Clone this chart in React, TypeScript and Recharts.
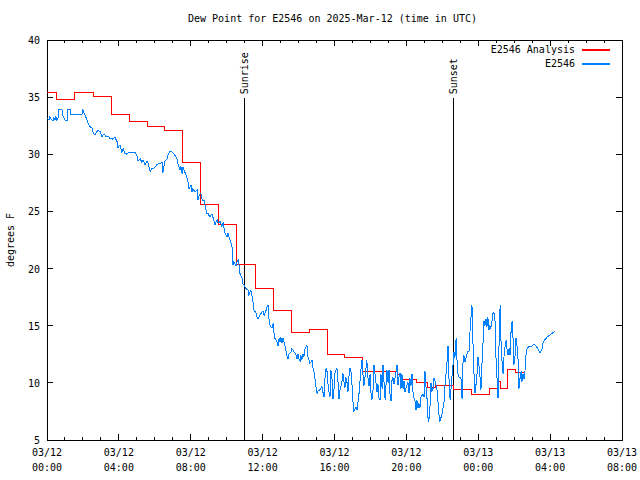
import { LineChart, Line, XAxis, YAxis, ReferenceLine, ReferenceArea } from 'recharts';

// E2546 hourly analysis (minutes after 03/12 00:00 UTC, step starts)
const analysisMinutes = [
  0, 33, 93, 154, 214, 274, 334, 394, 454, 514, 574, 634, 695, 755, 815, 875, 935, 995,
  1055, 1169, 1179, 1235, 1269, 1296, 1356, 1416, 1476, 1509, 1513, 1536, 1566, 1596,
];
const analysisValues = [
  35.4, 34.8, 35.4, 35.1, 33.5, 32.9, 32.4, 32.1, 29.3, 25.6, 23.9, 20.4, 18.3, 16.3, 14.4, 14.7, 12.5, 12.2,
  11.0, 10.7, 10.3, 10.0, 9.6, 9.8, 9.4, 9.0, 9.5, 10.1, 9.5, 11.2, 10.9, 10.9,
];

// E2546 station observations [minute, dew point F]
const observations: [number, number][] = [
  [0, 33.2], [7, 33.0], [10, 33.3], [13, 33.1], [20, 32.9], [23, 33.2], [27, 33.0], [30, 33.3], [33, 33.0],
  [37, 33.2], [40, 33.9], [50, 33.9], [53, 33.4], [60, 33.0], [67, 33.0], [70, 33.9], [77, 33.9], [80, 33.5],
  [117, 33.5], [120, 33.9], [127, 33.4], [134, 33.0], [137, 32.7], [144, 32.4], [150, 32.3], [154, 31.9],
  [160, 31.7], [167, 32.0], [170, 32.1], [177, 32.0], [184, 31.5], [187, 31.7], [194, 31.7], [197, 31.5],
  [204, 31.6], [210, 31.4], [217, 31.4], [220, 31.3], [227, 31.5], [234, 31.1], [237, 30.6], [244, 30.8],
  [250, 30.2], [254, 30.5], [260, 30.1], [267, 30.0], [270, 30.1], [277, 30.2], [294, 30.2], [301, 29.8],
  [304, 29.4], [311, 29.6], [317, 29.3], [321, 29.5], [327, 29.1], [334, 29.4], [337, 29.3], [344, 28.5],
  [351, 28.8], [354, 28.7], [361, 28.9], [367, 29.1], [377, 29.2], [384, 29.3], [387, 28.4], [391, 29.0],
  [394, 29.4], [401, 29.6], [404, 29.9], [411, 30.3], [417, 30.2], [421, 30.1], [427, 29.9], [434, 29.6],
  [437, 29.2], [444, 28.6], [447, 29.0], [451, 28.3], [454, 28.9], [461, 28.4], [467, 28.0], [471, 27.6],
  [474, 27.0], [481, 27.3], [484, 26.7], [487, 27.0], [494, 26.7], [501, 26.9], [504, 26.0], [508, 26.4],
  [514, 26.6], [518, 26.0], [521, 25.9], [524, 26.0], [528, 25.5], [534, 24.8], [538, 24.8], [544, 24.5],
  [551, 24.8], [554, 24.5], [561, 23.8], [568, 24.3], [571, 24.0], [578, 24.1], [584, 23.7], [588, 24.0],
  [594, 23.1], [601, 22.8], [604, 23.1], [611, 22.5], [618, 21.9], [621, 20.3], [624, 20.6], [631, 20.2],
  [634, 20.5], [638, 20.8], [641, 20.3], [644, 19.6], [651, 19.2], [654, 18.7], [661, 18.4], [668, 18.1],
  [671, 18.2], [674, 17.7], [681, 18.1], [685, 17.5], [688, 17.1], [691, 16.4], [698, 16.1], [701, 15.8],
  [705, 15.6], [711, 15.9], [718, 16.2], [721, 16.3], [725, 15.9], [731, 16.3], [735, 16.7], [738, 16.8],
  [741, 15.6], [745, 15.0], [751, 14.8], [755, 15.2], [758, 14.4], [761, 13.9], [768, 13.6], [771, 13.2],
  [775, 13.9], [778, 13.6], [781, 14.0], [785, 13.5], [788, 13.9], [791, 13.6], [795, 13.2], [801, 12.4],
  [805, 12.1], [808, 12.5], [815, 12.7], [818, 13.0], [825, 12.7], [831, 12.5], [835, 12.1], [838, 12.5],
  [841, 12.1], [845, 11.9], [848, 12.4], [851, 12.0], [855, 12.5], [858, 12.3], [861, 12.9], [868, 13.3],
  [871, 12.3], [875, 12.0], [878, 11.7], [885, 12.0], [888, 11.3], [891, 11.1], [895, 10.3], [898, 9.7],
  [902, 9.1], [905, 9.3], [912, 9.4], [918, 9.7], [922, 9.1], [925, 8.8], [928, 10.3], [932, 11.3],
  [935, 11.0], [938, 10.0], [942, 9.1], [945, 8.8], [948, 11.1], [952, 10.3], [955, 8.6], [958, 9.3],
  [962, 11.0], [968, 11.3], [972, 10.0], [975, 8.6], [978, 9.3], [985, 10.1], [988, 10.9], [992, 10.0],
  [995, 9.6], [998, 10.5], [1002, 10.0], [1005, 9.2], [1008, 10.5], [1012, 11.3], [1015, 11.0], [1018, 10.0],
  [1022, 8.2], [1025, 7.5], [1032, 7.9], [1035, 7.6], [1038, 8.2], [1042, 9.1], [1045, 10.1], [1048, 11.1],
  [1052, 12.0], [1055, 10.8], [1058, 9.7], [1062, 10.5], [1068, 12.0], [1072, 10.4], [1075, 9.7], [1079, 10.8],
  [1082, 9.1], [1085, 8.5], [1089, 9.5], [1092, 11.6], [1095, 10.8], [1102, 9.2], [1105, 9.9], [1109, 8.6],
  [1112, 8.5], [1115, 10.8], [1119, 9.5], [1122, 11.6], [1125, 10.2], [1129, 8.5], [1135, 11.1], [1139, 10.0],
  [1142, 11.1], [1145, 9.1], [1149, 8.4], [1152, 10.2], [1155, 10.5], [1159, 9.9], [1165, 10.9], [1169, 11.6],
  [1172, 9.8], [1175, 10.5], [1179, 10.9], [1182, 9.5], [1185, 10.8], [1189, 9.5], [1192, 10.2], [1195, 9.2],
  [1202, 9.8], [1205, 10.1], [1209, 9.1], [1212, 10.4], [1215, 9.7], [1219, 10.8], [1222, 9.2], [1225, 8.7],
  [1229, 8.4], [1232, 7.6], [1235, 8.5], [1239, 7.8], [1242, 8.2], [1245, 7.8], [1249, 8.8], [1255, 9.0],
  [1259, 8.8], [1262, 11.0], [1265, 9.8], [1269, 8.6], [1272, 7.0], [1275, 6.6], [1279, 8.0], [1282, 10.0],
  [1285, 9.3], [1289, 9.5], [1292, 10.4], [1296, 10.1], [1302, 9.5], [1306, 8.2], [1309, 7.2], [1312, 6.6],
  [1316, 7.0], [1319, 7.3], [1322, 7.7], [1326, 8.4], [1329, 9.8], [1336, 11.9], [1339, 13.2], [1342, 10.5],
  [1346, 8.5], [1349, 9.4], [1352, 10.5], [1356, 11.6], [1359, 12.7], [1362, 12.2], [1366, 13.9], [1369, 12.0],
  [1372, 10.8], [1376, 10.5], [1382, 10.5], [1386, 8.6], [1389, 11.7], [1392, 12.4], [1396, 11.8], [1402, 12.5],
  [1406, 12.8], [1409, 12.7], [1412, 14.3], [1416, 15.8], [1419, 16.8], [1422, 13.8], [1426, 10.7], [1429, 9.1],
  [1432, 9.7], [1436, 10.8], [1439, 12.3], [1442, 11.6], [1446, 10.5], [1449, 9.4], [1452, 11.4], [1456, 13.5],
  [1459, 15.4], [1462, 15.0], [1466, 15.6], [1469, 14.9], [1472, 15.8], [1476, 14.6], [1479, 15.0], [1482, 14.8],
  [1486, 15.4], [1489, 16.1], [1492, 16.2], [1496, 15.4], [1499, 12.3], [1502, 10.8], [1506, 8.7], [1509, 12.9],
  [1513, 16.8], [1516, 13.7], [1519, 12.0], [1523, 10.8], [1526, 12.3], [1529, 13.1], [1533, 13.7], [1536, 13.0],
  [1539, 12.4], [1543, 13.0], [1546, 12.4], [1549, 14.3], [1553, 15.4], [1556, 14.0], [1559, 11.6], [1563, 12.4],
  [1566, 13.9], [1569, 13.4], [1573, 12.0], [1576, 9.5], [1579, 10.3], [1583, 11.0], [1586, 10.1], [1589, 10.8],
  [1593, 10.3], [1596, 11.0], [1599, 12.4], [1603, 13.0], [1609, 13.2], [1619, 13.2], [1626, 13.4], [1633, 13.2],
  [1639, 13.0], [1646, 12.6], [1653, 13.0], [1656, 13.5], [1663, 13.8], [1670, 14.0], [1680, 14.2], [1690, 14.4],
  [1696, 14.5],
];

const xTicks = [
  0, 60, 120, 180, 240, 300, 360, 420, 480, 540, 600, 660, 720, 780, 840, 900, 960,
  1020, 1080, 1140, 1200, 1260, 1320, 1380, 1440, 1500, 1560, 1620, 1680, 1740, 1800, 1860, 1920,
];
const yTicks = [5, 10, 15, 20, 25, 30, 35, 40];

const sunriseMinute = 658;
const sunsetMinute = 1356;

const seriesNames = ['E2546 Analysis', 'E2546'];
const seriesColors = ['#ff0000', '#0080ff'];

const FONT = '"DejaVu Sans Mono", monospace';
const PLOT_LEFT = 47;
const PLOT_RIGHT = 622;
const PLOT_TOP = 40;
const PLOT_BOTTOM = 440;

const analysisData = analysisMinutes.map((t, i) => ({ t, v: analysisValues[i] }));
const obsData = observations.map(([t, v]) => ({ t, v }));

const pad = (n: number) => String(n).padStart(2, '0');

const XTick = (props: any) => {
  const { x, payload } = props;
  const m = payload.value;
  const major = m % 240 === 0;
  const len = major ? 6 : 3;
  const date = m < 1440 ? '03/12' : '03/13';
  const time = `${pad(Math.floor((m % 1440) / 60))}:00`;
  return (
    <g>
      <line x1={x} x2={x} y1={PLOT_BOTTOM} y2={PLOT_BOTTOM - len} stroke="#000" shapeRendering="crispEdges" />
      <line x1={x} x2={x} y1={PLOT_TOP} y2={PLOT_TOP + len} stroke="#000" shapeRendering="crispEdges" />
      {major && (
        <text x={x} y={456} textAnchor="middle" fontFamily={FONT} fontSize={10} fill="#000">
          <tspan x={x}>{date}</tspan>
          <tspan x={x} dy={15}>{time}</tspan>
        </text>
      )}
    </g>
  );
};

const YTick = (props: any) => {
  const { y, payload } = props;
  return (
    <g>
      <line x1={PLOT_LEFT} x2={PLOT_LEFT + 6} y1={y} y2={y} stroke="#000" shapeRendering="crispEdges" />
      <line x1={PLOT_RIGHT} x2={PLOT_RIGHT - 6} y1={y} y2={y} stroke="#000" shapeRendering="crispEdges" />
      <text x={40} y={y + 4} textAnchor="end" fontFamily={FONT} fontSize={10} fill="#000">
        {payload.value}
      </text>
    </g>
  );
};

const sunLabel = (text: string) => (props: any) => {
  const { viewBox } = props;
  const x = viewBox.x + 4;
  const y = viewBox.y - 4;
  return (
    <text x={x} y={y} transform={`rotate(-90 ${x} ${y})`} fontFamily={FONT} fontSize={10} fill="#000">
      {text}
    </text>
  );
};

const ChartLegend = () => (
  <div style={{ position: 'absolute', left: 400, top: 41, width: 220, height: 30 }}>
    {seriesNames.map((name, i) => (
      <div key={name} style={{ position: 'absolute', left: 0, top: i * 14, width: 220, height: 14 }}>
        <span
          style={{
            position: 'absolute', right: 45, top: 3, fontFamily: FONT, fontSize: 10,
            lineHeight: '12px', color: '#000', whiteSpace: 'nowrap',
          }}
        >
          {name}
        </span>
        <div style={{ position: 'absolute', left: 182, top: 8, width: 28, height: 1.5, background: seriesColors[i] }} />
      </div>
    ))}
  </div>
);

export default function App() {
  return (
    <div style={{ position: 'absolute', left: 0, top: 0, width: 640, height: 480, background: '#fff' }}>
      <div
        style={{
          position: 'absolute', left: 0, top: 12, width: 665, textAlign: 'center',
          fontFamily: FONT, fontSize: 10, lineHeight: '14px', color: '#000',
        }}
      >
        Dew Point for E2546 on 2025-Mar-12 (time in UTC)
      </div>
      <LineChart width={640} height={480} margin={{ top: 40, right: 18, bottom: 0, left: 0 }}>
        <XAxis
          type="number" dataKey="t" domain={[0, 1920]} ticks={xTicks} interval={0}
          tick={XTick} tickLine={false} axisLine={false} height={40} allowDataOverflow
        />
        <YAxis
          type="number" domain={[5, 40]} ticks={yTicks} interval={0}
          tick={YTick} tickLine={false} axisLine={false} width={47} allowDataOverflow
          label={() => (
            <text x={14} y={240} transform="rotate(-90 14 240)" textAnchor="middle" fontFamily={FONT} fontSize={10} fill="#000">
              degrees F
            </text>
          )}
        />
        <ReferenceArea x1={0} x2={1920} y1={5} y2={40} fill="none" stroke="#000" shapeRendering="crispEdges" />
        <ReferenceLine
          segment={[{ x: sunriseMinute, y: 5 }, { x: sunriseMinute, y: 34.9 }]}
          stroke="#000" shapeRendering="crispEdges" label={sunLabel('Sunrise')}
        />
        <ReferenceLine
          segment={[{ x: sunsetMinute, y: 5 }, { x: sunsetMinute, y: 34.9 }]}
          stroke="#000" shapeRendering="crispEdges" label={sunLabel('Sunset')}
        />
        <Line
          data={analysisData} dataKey="v" type="stepAfter" name={seriesNames[0]}
          stroke={seriesColors[0]} strokeWidth={1} dot={false} isAnimationActive={false}
          shapeRendering="crispEdges"
        />
        <Line
          data={obsData} dataKey="v" type="linear" name={seriesNames[1]}
          stroke={seriesColors[1]} strokeWidth={1} dot={false} isAnimationActive={false}
          shapeRendering="crispEdges"
        />
      </LineChart>
      <ChartLegend />
    </div>
  );
}
